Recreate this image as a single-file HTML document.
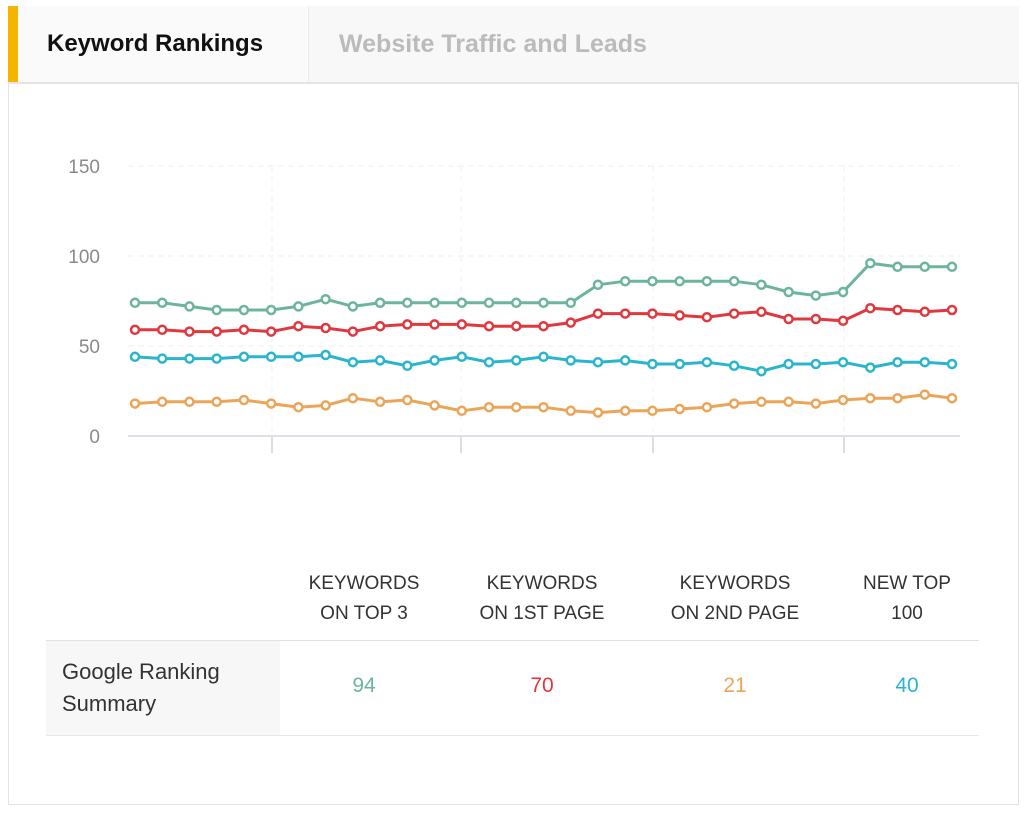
<!DOCTYPE html>
<html><head><meta charset="utf-8"><style>
body{margin:0;width:1027px;height:815px;background:#fff;font-family:"Liberation Sans",sans-serif;overflow:hidden;position:relative}
.card{position:absolute;left:8px;top:6px;width:1011px;height:799px;border:1px solid #e3e3e3;box-sizing:border-box}
.tabs{position:absolute;left:8px;top:6px;width:1011px;height:78px;background:#f8f8f8;border-bottom:2px solid #e4e4e4;box-sizing:border-box}
.tab1{position:absolute;left:0;top:0;width:300px;height:76px;background:#fafafa;border-right:1px solid #ececec}
.bar{position:absolute;left:0;top:0;width:10px;height:76px;background:#f4b400}
.t{position:absolute;white-space:nowrap}
.hdr{position:absolute;top:569px;width:200px;text-align:center;font-size:19px;line-height:30px;color:#333}
.val{position:absolute;top:674px;width:200px;text-align:center;font-size:21px}
</style></head><body>
<div class="card"></div>
<div class="tabs">
 <div class="tab1"><div class="bar"></div>
  <div class="t" style="left:39px;top:24px;font-size:24px;color:#111;font-weight:bold">Keyword Rankings</div></div>
 <div class="t" style="left:331px;top:24px;font-size:25px;color:#bbb;font-weight:bold">Website Traffic and Leads</div>
</div>
<svg id="chart" width="1027" height="500" style="position:absolute;left:0;top:0"></svg>
<div class="hdr" style="left:264px">KEYWORDS<br>ON TOP 3</div>
<div class="hdr" style="left:442px">KEYWORDS<br>ON 1ST PAGE</div>
<div class="hdr" style="left:635px">KEYWORDS<br>ON 2ND PAGE</div>
<div class="hdr" style="left:807px">NEW TOP<br>100</div>
<div style="position:absolute;left:46px;top:640px;width:933px;height:1px;background:#e2e2e2"></div>
<div style="position:absolute;left:46px;top:641px;width:234px;height:94px;background:#f7f7f7"></div>
<div style="position:absolute;left:46px;top:735px;width:933px;height:1px;background:#e8e8e8"></div>
<div class="t" style="left:62px;top:656px;font-size:22px;line-height:32px;color:#333">Google Ranking<br>Summary</div>
<div class="val" style="left:264px;color:#6cb59a">94</div>
<div class="val" style="left:442px;color:#e0383e">70</div>
<div class="val" style="left:635px;color:#eba558">21</div>
<div class="val" style="left:807px;color:#2bb5cc">40</div>
<script>
const yTicks=[0,50,100,150];
const green=[74,74,72,70,70,70,72,76,72,74,74,74,74,74,74,74,74,84,86,86,86,86,86,84,80,78,80,96,94,94,94];
const red=[59,59,58,58,59,58,61,60,58,61,62,62,62,61,61,61,63,68,68,68,67,66,68,69,65,65,64,71,70,69,70];
const cyan=[44,43,43,43,44,44,44,45,41,42,39,42,44,41,42,44,42,41,42,40,40,41,39,36,40,40,41,38,41,41,40];
const orange=[18,19,19,19,20,18,16,17,21,19,20,17,14,16,16,16,14,13,14,14,15,16,18,19,19,18,20,21,21,23,21];
const svg=document.getElementById('chart');const NS='http://www.w3.org/2000/svg';
const n=green.length;
const x=i=>135+i*(952-135)/(n-1);
const y=v=>436-v*1.8;
function mk(t,a){const e=document.createElementNS(NS,t);for(const k in a)e.setAttribute(k,a[k]);svg.appendChild(e);return e;}
yTicks.forEach(v=>{
 if(v>0){const g=mk('line',{x1:128,x2:960,y1:y(v),y2:y(v),stroke:'#efefef','stroke-dasharray':'6 4'});
 
 }
 const t=mk('text',{x:100,y:y(v)+7,'text-anchor':'end','font-size':19,fill:'#8a8a8a','font-family':'Liberation Sans, sans-serif'});
 t.textContent=v;
 
 
});
[272,461,653,844].forEach(px=>{
 mk('line',{x1:px,x2:px,y1:166,y2:436,stroke:'#f2f2f2','stroke-dasharray':'6 4'});
 const tk=mk('line',{x1:px,x2:px,y1:436,y2:453,stroke:'#ddd','stroke-width':2});
 
 
});
const ax=mk('line',{x1:128,x2:960,y1:436,y2:436,stroke:'#dde0e6','stroke-width':2});


[[green,'#6cb59a','series-top3'],[red,'#e0383e','series-1st-page'],[cyan,'#2bb5cc','series-new-top100'],[orange,'#eba558','series-2nd-page']].forEach(([d,c,nm])=>{
 const p=mk('polyline',{points:d.map((v,i)=>x(i)+','+y(v)).join(' '),fill:'none',stroke:c,'stroke-width':3});
 
 
 d.forEach((v,i)=>{const ci=mk('circle',{cx:x(i),cy:y(v),r:4,fill:'#fff',stroke:c,'stroke-width':2.5});
  
  });
});
</script>
</body></html>
